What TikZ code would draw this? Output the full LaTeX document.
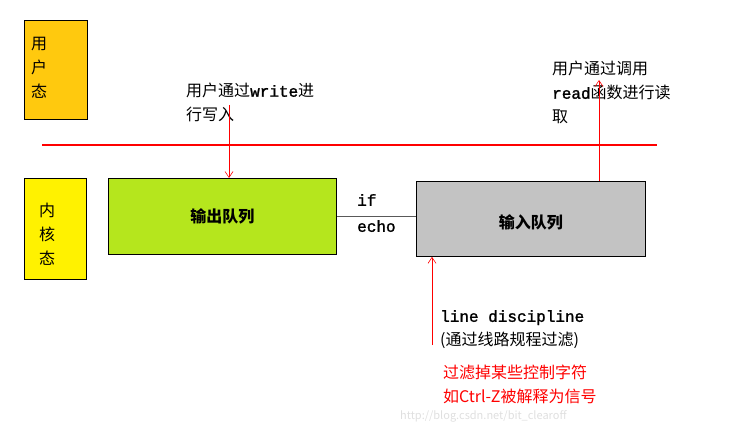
\documentclass[tikz,border=0pt]{standalone}
\usepackage{fontspec}
\setmainfont{Noto Sans CJK SC}
\newfontfamily\monofont{Liberation Mono}[FakeBold=1.5]
\tikzset{x=1pt,y=-1pt,
 box/.style={draw=black,line width=0.8pt,anchor=north west,inner sep=0pt},
 lbl/.style={anchor=north west,inner sep=0pt,align=left,font=\fontsize{16}{24}\selectfont},
 redarr/.style={red,line width=0.6pt,-{Straight Barb[length=6pt,width=8pt]}}}
\usetikzlibrary{arrows.meta}
\begin{document}
\begin{tikzpicture}
\useasboundingbox (0,0) rectangle (743,430);
\node[box,fill={rgb,255:red,255;green,201;blue,14},minimum width=63pt,minimum height=99pt] (user) at (24,20) {};
\node[lbl,align=center] at (31,37) {用\\户\\态};
\node[box,fill={rgb,255:red,255;green,242;blue,0},minimum width=62pt,minimum height=101pt] (kern) at (24,178) {};
\node[lbl,align=center] at (39,203) {内\\核\\态};
\coordinate (la) at (42,145); \coordinate (lb) at (657,145);
\draw[red,line width=2pt] (la) -- (lb);
\node[box,fill={rgb,255:red,181;green,230;blue,29},minimum width=228pt,minimum height=76pt] (out) at (108,178) {};
\node[font=\fontsize{16}{18}\selectfont\bfseries] at (out.center) {输出队列};
\node[box,fill={rgb,255:red,195;green,195;blue,195},minimum width=229pt,minimum height=75pt] (in) at (416,181) {};
\node[font=\fontsize{16}{18}\selectfont\bfseries] at ([yshift=-4pt]in.center) {输入队列};
\draw[gray!70!black,line width=0.6pt] (in.west |- out.east) -- (out.east);
\node[lbl,font=\monofont\fontsize{16}{26}\selectfont] at (357,194) {if\\echo};
\node[lbl] (wt) at (186,83) {用户通过{\monofont write}进\\行写入};
\coordinate (wa) at (229,105);
\draw[redarr] (wa) -- (wa |- out.north);
\node[lbl] (rt) at (552,61) {用户通过调用\\{\monofont read}函数进行读\\取};
\coordinate (ra) at (599,80);
\draw[redarr] (ra |- in.north) -- (ra);
\coordinate (ld) at (432,345);
\draw[redarr] (ld) -- (ld |- in.south);
\node[lbl] at (440,310) {{\monofont line discipline}\\(通过线路规程过滤)};
\node[lbl,red] at (443,365) {过滤掉某些控制字符\\如Ctrl-Z被解释为信号};
\node[anchor=north west,inner sep=0pt,text=gray!25,font=\fontsize{11}{13}\selectfont] at (400,410) {http://blog.csdn.net/bit\_clearoff};
\end{tikzpicture}
\end{document}
